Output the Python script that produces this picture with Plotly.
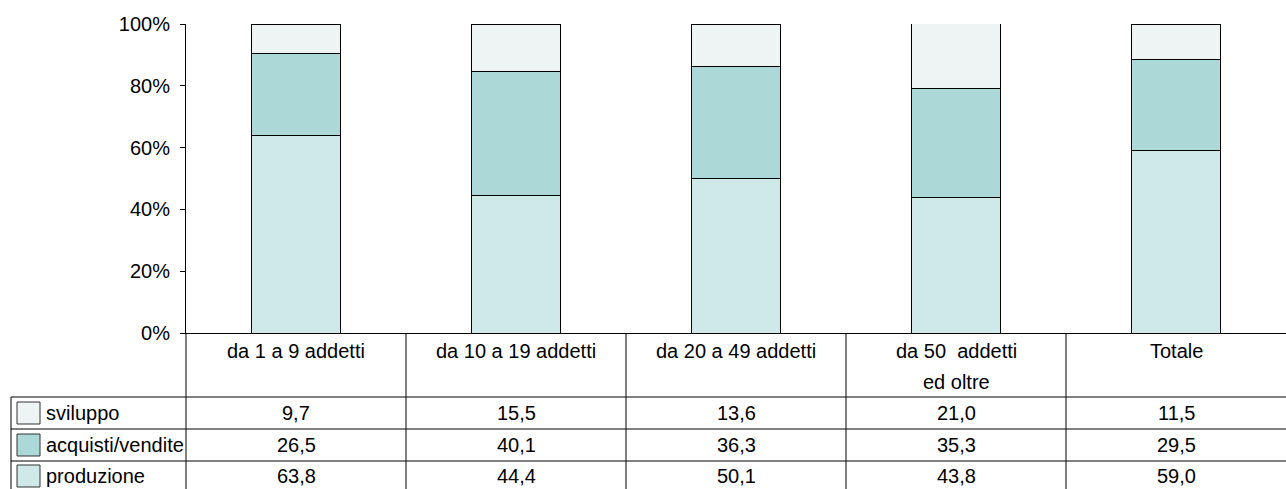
import plotly.graph_objects as go

# Categories (company size classes) and the share of each function, in %
categories = ["da 1 a 9 addetti", "da 10 a 19 addetti", "da 20 a 49 addetti",
              "da 50\u00a0\u00a0addetti\ned oltre", "Totale"]
produzione = [63.8, 44.4, 50.1, 43.8, 59.0]
acquisti_vendite = [26.5, 40.1, 36.3, 35.3, 29.5]
sviluppo = [9.7, 15.5, 13.6, 21.0, 11.5]

series_names = ["sviluppo", "acquisti/vendite", "produzione"]
series_values = [sviluppo, acquisti_vendite, produzione]
series_colors = ["#EEF4F4", "#ADD8D8", "#CFE8E8"]

y_ticks = [0, 20, 40, 60, 80, 100]

W, H = 1286, 489
L, R, T, B = 186, 0, 24, 156
PW, PH = W - L - R, H - T - B
FONT = "Liberation Sans, Arial, sans-serif"


def px_x(px):
    return (px - L) / PW


def px_y(py):
    return (H - B - py) / PH


x_idx = list(range(len(categories)))
fig = go.Figure()
# Stack order bottom to top: produzione, acquisti/vendite, sviluppo
for name, vals, col in zip(series_names[::-1], series_values[::-1], series_colors[::-1]):
    fig.add_trace(go.Bar(
        x=x_idx, y=vals, name=name, width=0.405,
        marker=dict(color=col, line=dict(color="black", width=1)),
        showlegend=False, hoverinfo="skip",
    ))

shapes = []
annotations = []
line = dict(color="black", width=1)

# Data table: vertical separators between categories
for i in range(len(categories) - 1):
    shapes.append(dict(type="line", xref="x", yref="paper", x0=i + 0.5, x1=i + 0.5,
                       y0=0, y1=px_y(489), line=line))
# continuation of the y axis through the table
shapes.append(dict(type="line", xref="paper", yref="paper", x0=0, x1=0,
                   y0=0, y1=px_y(489), line=line))
# left border of the series label column
shapes.append(dict(type="line", xref="paper", yref="paper", x0=px_x(11), x1=px_x(11),
                   y0=px_y(397), y1=px_y(489), line=line))
# horizontal row separators
for py in (397, 429, 461):
    shapes.append(dict(type="line", xref="paper", yref="paper", x0=px_x(11), x1=1,
                       y0=px_y(py), y1=px_y(py), line=line))

# Category headers
for i, cat in enumerate(categories):
    for j, part in enumerate(cat.split("\n")):
        annotations.append(dict(x=i, y=px_y(351 + 31 * j), xref="x", yref="paper",
                                text=part, showarrow=False, xanchor="center",
                                yanchor="middle", font=dict(family=FONT, size=20, color="black")))

# Table rows: legend key, series name and values
row_centers = [413, 445, 476]
for r, (name, vals, col) in enumerate(zip(series_names, series_values, series_colors)):
    yc = row_centers[r]
    shapes.append(dict(type="rect", xref="paper", yref="paper",
                       x0=px_x(17), x1=px_x(40), y0=px_y(yc - 11), y1=px_y(yc + 11),
                       fillcolor=col, line=dict(color="#333333", width=1)))
    annotations.append(dict(x=px_x(44), y=px_y(yc), xref="paper", yref="paper",
                            text=name, showarrow=False, xanchor="left", yanchor="middle",
                            font=dict(family=FONT, size=20, color="black")))
    for i, v in enumerate(vals):
        annotations.append(dict(x=i, y=px_y(yc), xref="x", yref="paper",
                                text=f"{v:.1f}".replace(".", ","), showarrow=False,
                                xanchor="center", yanchor="middle",
                                font=dict(family=FONT, size=20, color="black")))

fig.update_layout(
    width=W, height=H,
    margin=dict(l=L, r=R, t=T, b=B, pad=0),
    paper_bgcolor="white", plot_bgcolor="white",
    barmode="stack",
    bargap=0.6,
    shapes=shapes,
    annotations=annotations,
    font=dict(family=FONT, size=20, color="black"),
    xaxis=dict(range=[-0.5, len(categories) - 0.5], showticklabels=False, ticks="",
               showgrid=False, zeroline=False, showline=True, linecolor="black",
               linewidth=1, fixedrange=True),
    yaxis=dict(range=[0, 100], tickvals=y_ticks, ticktext=[f"{t}%" for t in y_ticks],
               ticks="outside", ticklen=5, tickcolor="black", showgrid=False,
               ticklabelstandoff=6,
               zeroline=False, showline=True, linecolor="black", linewidth=1,
               tickfont=dict(family=FONT, size=20, color="black"), fixedrange=True),
)

fig.write_html("out.html", config={"displayModeBar": False})
